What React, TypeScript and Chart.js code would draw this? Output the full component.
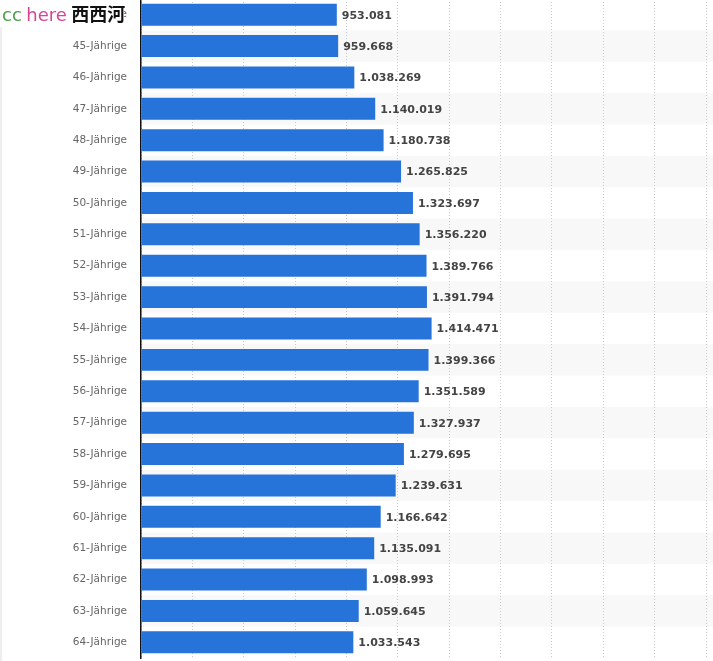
import React, { useEffect, useRef } from "react";
import { Chart, registerables } from "chart.js";

Chart.register(...registerables);

const categories = [
  "44-Jährige", "45-Jährige", "46-Jährige", "47-Jährige", "48-Jährige", "49-Jährige",
  "50-Jährige", "51-Jährige", "52-Jährige", "53-Jährige", "54-Jährige", "55-Jährige",
  "56-Jährige", "57-Jährige", "58-Jährige", "59-Jährige", "60-Jährige", "61-Jährige",
  "62-Jährige", "63-Jährige", "64-Jährige",
];

const values = [
  953081, 959668, 1038269, 1140019, 1180738, 1265825,
  1323697, 1356220, 1389766, 1391794, 1414471, 1399366,
  1351589, 1327937, 1279695, 1239631, 1166642, 1135091,
  1098993, 1059645, 1033543,
];

const xMax = 2750000;
const xStep = 250000;

const fmt = (v: number) => v.toLocaleString("de-DE");

const bandsPlugin = {
  id: "bands",
  beforeDraw(chart: any) {
    const { ctx, chartArea, scales } = chart;
    const y = scales.y;
    const n = categories.length;
    const pitch = (chartArea.bottom - chartArea.top) / n;
    ctx.save();
    ctx.fillStyle = "#f8f8f8";
    for (let i = 0; i < n; i++) {
      if (i % 2 === 1) {
        const c = y.getPixelForValue(i);
        ctx.fillRect(chartArea.left, c - pitch / 2, chart.width - chartArea.left, pitch);
      }
    }
    ctx.restore();
  },
};

const valueLabelPlugin = {
  id: "valueLabels",
  afterDatasetsDraw(chart: any) {
    const { ctx } = chart;
    const meta = chart.getDatasetMeta(0);
    ctx.save();
    ctx.font = "bold 11px 'DejaVu Sans'";
    ctx.fillStyle = "#444444";
    ctx.textAlign = "left";
    ctx.textBaseline = "middle";
    meta.data.forEach((el: any, i: number) => {
      ctx.fillText(fmt(values[i]), el.x + 5, el.y + 1);
    });
    ctx.restore();
  },
};

export default function App() {
  const ref = useRef<HTMLCanvasElement | null>(null);

  useEffect(() => {
    if (!ref.current) return;
    const chart = new Chart(ref.current, {
      type: "bar",
      data: {
        labels: categories,
        datasets: [
          {
            data: values,
            backgroundColor: "#2673da",
            borderWidth: 0,
            barPercentage: 0.7,
            categoryPercentage: 1,
          },
        ],
      },
      options: {
        indexAxis: "y",
        animation: false,
        responsive: true,
        maintainAspectRatio: false,
        layout: { autoPadding: false, padding: { top: 0, bottom: 3, left: 0, right: 7 } },
        plugins: {
          legend: { display: false },
          tooltip: { enabled: false },
          title: { display: false },
        },
        scales: {
          x: {
            min: 0,
            max: xMax,
            ticks: { display: false, stepSize: xStep },
            grid: {
              display: true,
              drawTicks: false,
              color: "#c8c8c8",
              lineWidth: 1,
            },
            border: { display: false, dash: [1, 2] },
            afterFit(scale: any) {
              scale.height = 0;
              scale.paddingLeft = 0;
              scale.paddingRight = 0;
            },
          },
          y: {
            ticks: {
              color: "#666666",
              font: { family: "'DejaVu Sans'", size: 10.5 },
              padding: 14,
            },
            grid: { display: false, drawTicks: false },
            border: { display: true, color: "#111111", width: 1.5 },
            afterFit(scale: any) {
              scale.width = 141;
              scale.paddingTop = 0;
              scale.paddingBottom = 0;
            },
          },
        },
      },
      plugins: [bandsPlugin, valueLabelPlugin],
    });
    return () => chart.destroy();
  }, []);

  return (
    <div style={{ position: "absolute", left: 0, top: 0, width: 713, height: 661, background: "#fff", overflow: "hidden" }}>
      <div style={{ position: "absolute", left: 0, top: 15, width: 2, height: 646, background: "#eeeeee" }} />
      <div style={{ position: "absolute", left: 0, top: -1, width: 713, height: 662 }}>
        <canvas ref={ref} />
      </div>
      <div
        style={{
          position: "absolute",
          left: 0,
          top: 0,
          width: 124,
          height: 27,
          background: "#fff",
          fontSize: 18,
          lineHeight: "26px",
          whiteSpace: "nowrap",
          paddingLeft: 2,
          boxSizing: "border-box",
        }}
      >
        <span style={{ color: "#4a9e4a", fontFamily: "'DejaVu Sans', sans-serif" }}>cc</span>{" "}
        <span style={{ color: "#d6449a", fontFamily: "'DejaVu Sans', sans-serif" }}>here</span>{" "}
        <span style={{ color: "#111", fontFamily: "'Noto Sans CJK SC'", fontWeight: 700 }}>西西河</span>
      </div>
    </div>
  );
}
